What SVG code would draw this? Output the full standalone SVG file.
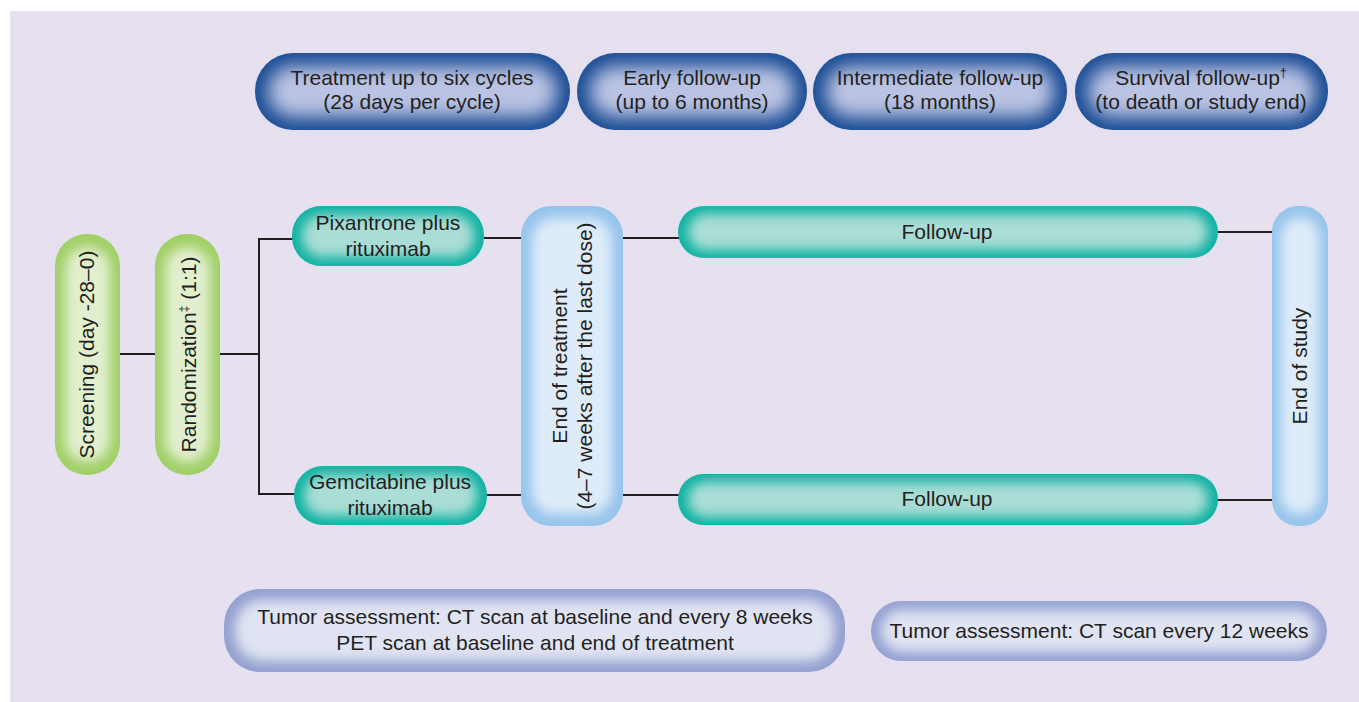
<svg xmlns="http://www.w3.org/2000/svg" width="1359" height="702" viewBox="0 0 1359 702">
<defs>
<filter id="glow" x="-20%" y="-30%" width="140%" height="160%"><feGaussianBlur stdDeviation="9"/></filter>
<filter id="glowS" x="-20%" y="-20%" width="140%" height="140%"><feGaussianBlur stdDeviation="6"/></filter>
<style>
text{font-family:"Liberation Sans",Arial,sans-serif;font-size:21px;fill:#231f20;text-anchor:middle}
.blueE{fill:#1a4c94}.blueC{fill:#bac3e3}
.tealE{fill:#0fb2a2}.tealC{fill:#a9ddd6}
.lbE{fill:#96c4eb}.lbC{fill:#deecf9}
.grE{fill:#a0cf66}.grC{fill:#e2efcf}
.tuE{fill:#94a1d1}.tuC{fill:#dfe3f2}
.conn line{stroke:#231f20;stroke-width:2}
</style>
</defs>
<rect x="0" y="0" width="1359" height="702" fill="#ffffff"/>
<rect x="10" y="11" width="1349" height="691" fill="#e6e0ef"/>

<g class="conn">
<line x1="120" y1="354" x2="155" y2="354"/>
<line x1="220" y1="354" x2="260" y2="354"/>
<line x1="259" y1="238" x2="259" y2="495"/>
<line x1="258" y1="239" x2="293" y2="239"/>
<line x1="258" y1="494" x2="295" y2="494"/>
<line x1="484" y1="238" x2="522" y2="238"/>
<line x1="486" y1="495" x2="522" y2="495"/>
<line x1="622" y1="238" x2="679" y2="238"/>
<line x1="622" y1="495" x2="679" y2="495"/>
<line x1="1217" y1="232" x2="1273" y2="232"/>
<line x1="1217" y1="500" x2="1273" y2="500"/>
</g>

<g id="h1">
<rect class="blueE" x="255" y="53" width="315" height="77" rx="38"/>
<rect class="blueC" x="268" y="66" width="289" height="51" rx="25" filter="url(#glow)"/>
<text x="412" y="85">Treatment up to six cycles</text>
<text x="412" y="109">(28 days per cycle)</text>
</g>
<g id="h2">
<rect class="blueE" x="577" y="53" width="230" height="77" rx="38"/>
<rect class="blueC" x="590" y="66" width="204" height="51" rx="25" filter="url(#glow)"/>
<text x="692" y="85">Early follow-up</text>
<text x="692" y="109">(up to 6 months)</text>
</g>
<g id="h3">
<rect class="blueE" x="813" y="53" width="254" height="77" rx="38"/>
<rect class="blueC" x="826" y="66" width="228" height="51" rx="25" filter="url(#glow)"/>
<text x="940" y="85">Intermediate follow-up</text>
<text x="940" y="109">(18 months)</text>
</g>
<g id="h4">
<rect class="blueE" x="1075" y="53" width="253" height="77" rx="38"/>
<rect class="blueC" x="1088" y="66" width="227" height="51" rx="25" filter="url(#glow)"/>
<text x="1201" y="85">Survival follow-up<tspan font-size="12" dy="-8">†</tspan></text>
<text x="1201" y="109">(to death or study end)</text>
</g>

<g id="screening">
<rect class="grE" x="55" y="234" width="65" height="241" rx="32"/>
<rect class="grC" x="65" y="247" width="45" height="215" rx="22" filter="url(#glowS)"/>
<text transform="translate(94,354.5) rotate(-90)">Screening (day -28–0)</text>
</g>
<g id="randomization">
<rect class="grE" x="155" y="234" width="65" height="241" rx="32"/>
<rect class="grC" x="165" y="247" width="45" height="215" rx="22" filter="url(#glowS)"/>
<text transform="translate(196,354.5) rotate(-90)">Randomization<tspan font-size="12" dy="-8">‡</tspan><tspan dy="8"> (1:1)</tspan></text>
</g>

<g id="pixantrone">
<rect class="tealE" x="292" y="206" width="192" height="60" rx="29"/>
<rect class="tealC" x="302" y="215" width="172" height="42" rx="20" filter="url(#glowS)"/>
<text x="388" y="230">Pixantrone plus</text>
<text x="388" y="256">rituximab</text>
</g>
<g id="gemcitabine">
<rect class="tealE" x="294" y="466" width="193" height="59" rx="29"/>
<rect class="tealC" x="304" y="475" width="173" height="41" rx="20" filter="url(#glowS)"/>
<text x="390" y="489">Gemcitabine plus</text>
<text x="390" y="515">rituximab</text>
</g>

<g id="eot">
<rect class="lbE" x="521" y="206" width="102" height="320" rx="30"/>
<rect class="lbC" x="532" y="218" width="80" height="296" rx="22" filter="url(#glowS)"/>
<text transform="translate(572,366) rotate(-90)"><tspan x="0" y="-5">End of treatment</tspan><tspan x="0" y="20">(4–7 weeks after the last dose)</tspan></text>
</g>

<g id="followup1">
<rect class="tealE" x="678" y="206" width="540" height="52" rx="26"/>
<rect class="tealC" x="688" y="214" width="520" height="36" rx="18" filter="url(#glowS)"/>
<text x="947" y="239">Follow-up</text>
</g>
<g id="followup2">
<rect class="tealE" x="678" y="474" width="540" height="51" rx="25"/>
<rect class="tealC" x="688" y="482" width="520" height="35" rx="17" filter="url(#glowS)"/>
<text x="947" y="506">Follow-up</text>
</g>

<g id="eos">
<rect class="lbE" x="1272" y="206" width="56" height="320" rx="26"/>
<rect class="lbC" x="1281" y="218" width="38" height="296" rx="18" filter="url(#glowS)"/>
<text transform="translate(1307,366) rotate(-90)">End of study</text>
</g>

<g id="tumor1">
<rect class="tuE" x="224" y="589" width="621" height="83" rx="36"/>
<rect class="tuC" x="235" y="600" width="599" height="61" rx="27" filter="url(#glowS)"/>
<text x="535" y="624">Tumor assessment: CT scan at baseline and every 8 weeks</text>
<text x="535" y="650">PET scan at baseline and end of treatment</text>
</g>
<g id="tumor2">
<rect class="tuE" x="871" y="601" width="456" height="60" rx="30"/>
<rect class="tuC" x="881" y="610" width="436" height="42" rx="21" filter="url(#glowS)"/>
<text x="1099" y="638">Tumor assessment: CT scan every 12 weeks</text>
</g>
</svg>
